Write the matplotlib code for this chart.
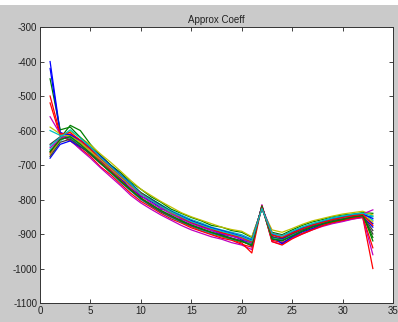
import matplotlib
matplotlib.use("Agg")
import matplotlib.pyplot as plt
from matplotlib.patches import Rectangle

x = list(range(1, 34))

s1 = [-400, -605, -618, -630, -652, -690, -705, -742, -758, -792, -800, -828, -832, -858, -860, -880, -884, -900, -898, -918, -925, -820, -915, -920, -900, -890, -875, -870, -858, -856, -848, -845, -870]
s2 = [-660, -622, -585, -600, -640, -672, -700, -722, -750, -770, -792, -808, -828, -840, -852, -862, -875, -880, -890, -895, -910, -826, -895, -902, -888, -875, -865, -858, -850, -845, -842, -838, -840]
s3 = [-520, -615, -630, -652, -675, -705, -728, -755, -782, -805, -822, -840, -856, -868, -882, -892, -902, -912, -918, -930, -938, -818, -918, -925, -910, -898, -886, -875, -868, -862, -856, -852, -1000]
s4 = [-655, -630, -612, -632, -655, -680, -702, -730, -752, -780, -798, -815, -832, -845, -858, -868, -880, -888, -895, -902, -915, -824, -900, -905, -892, -880, -870, -862, -852, -848, -843, -840, -860]
s5 = [-560, -610, -628, -655, -680, -708, -734, -760, -788, -810, -828, -845, -860, -875, -888, -898, -908, -915, -925, -932, -945, -815, -922, -930, -912, -900, -888, -878, -870, -864, -857, -852, -960]
s6 = [-670, -628, -602, -620, -642, -668, -692, -718, -745, -770, -788, -806, -822, -838, -850, -860, -870, -880, -887, -892, -908, -828, -888, -895, -884, -872, -862, -855, -848, -842, -838, -834, -845]
s7 = [-640, -618, -622, -645, -670, -695, -722, -748, -772, -798, -815, -832, -848, -860, -874, -884, -895, -902, -912, -920, -930, -822, -910, -918, -904, -890, -880, -870, -862, -858, -852, -848, -900]
s8 = [-680, -640, -630, -648, -664, -688, -712, -740, -768, -790, -806, -822, -840, -855, -868, -878, -890, -900, -906, -915, -922, -825, -906, -928, -908, -894, -884, -872, -864, -857, -852, -849, -880]
s9 = [-450, -598, -590, -620, -648, -675, -700, -728, -755, -780, -798, -816, -835, -850, -862, -872, -884, -894, -900, -908, -928, -820, -912, -915, -898, -885, -873, -865, -858, -850, -846, -843, -920]
s10 = [-665, -620, -615, -636, -660, -690, -716, -744, -770, -795, -815, -834, -850, -866, -878, -890, -900, -908, -916, -926, -955, -818, -922, -932, -914, -900, -888, -876, -866, -860, -854, -850, -940]
s11 = [-600, -614, -620, -642, -665, -694, -722, -750, -775, -800, -818, -836, -852, -865, -876, -888, -898, -906, -915, -922, -930, -823, -912, -915, -902, -888, -878, -868, -862, -855, -850, -847, -850]
s12 = [-650, -625, -610, -630, -652, -682, -708, -735, -762, -788, -810, -826, -842, -856, -870, -880, -890, -898, -906, -914, -926, -820, -898, -905, -893, -882, -872, -864, -856, -850, -846, -842, -830]
s13 = [-590, -610, -616, -635, -660, -684, -710, -736, -760, -784, -802, -820, -838, -852, -864, -874, -884, -894, -902, -910, -922, -823, -904, -908, -894, -883, -872, -864, -856, -851, -846, -844, -865]
s14 = [-675, -634, -625, -646, -668, -696, -720, -748, -774, -798, -818, -836, -850, -864, -876, -886, -896, -904, -912, -920, -935, -821, -908, -914, -900, -888, -878, -869, -861, -856, -851, -847, -890]
s15 = [-420, -608, -612, -628, -650, -675, -702, -728, -755, -782, -800, -818, -835, -848, -862, -872, -882, -890, -898, -906, -918, -823, -902, -912, -896, -882, -874, -864, -855, -850, -845, -842, -855]
s16 = [-662, -626, -618, -640, -666, -694, -720, -746, -772, -796, -814, -832, -846, -862, -874, -885, -895, -905, -914, -922, -932, -819, -914, -920, -906, -892, -880, -871, -864, -858, -850, -846, -910]
s17 = [-500, -610, -606, -628, -654, -680, -706, -732, -758, -782, -802, -820, -836, -852, -866, -876, -886, -896, -903, -910, -922, -824, -903, -910, -897, -885, -874, -866, -858, -852, -847, -843, -875]
s18 = [-645, -620, -598, -622, -648, -678, -704, -730, -756, -784, -802, -820, -836, -850, -864, -874, -884, -892, -900, -908, -920, -826, -898, -906, -892, -880, -870, -862, -854, -848, -843, -840, -848]

series = [s1, s2, s3, s4, s5, s6, s7, s8, s9, s10, s11, s12, s13, s14,
          s15, s16, s17, s18]

xticks = [0, 5, 10, 15, 20, 25, 30, 35]
yticks = [-1100, -1000, -900, -800, -700, -600, -500, -400, -300]
title = "Approx Coeff"

colors = [(0, 0, 1), (0, 0.5, 0), (1, 0, 0), (0, 0.75, 0.75),
          (0.75, 0, 0.75), (0.75, 0.75, 0), (0.25, 0.25, 0.25)]

plt.rcParams['font.family'] = ['Liberation Sans', 'DejaVu Sans']
plt.rcParams['axes.unicode_minus'] = False

fig = plt.figure(figsize=(3.98, 3.22), dpi=100)
fig.patch.set_facecolor('#cacaca')
fig.add_artist(Rectangle((0, 0.986), 1, 0.014, transform=fig.transFigure,
                         facecolor='white', edgecolor='none'))
ax = fig.add_axes([0.1005, 0.059, 0.887, 0.857])
ax.set_facecolor('white')

for i, s in enumerate(series):
    ax.plot(x, s, color=colors[i % len(colors)], linewidth=0.9)

ax.set_xlim(0, 35)
ax.set_ylim(-1100, -300)
ax.set_xticks(xticks)
ax.set_yticks(yticks)
ax.tick_params(direction='in', length=3, width=0.6, labelsize=7,
               top=True, right=True, colors='#222222', pad=2)
for sp in ax.spines.values():
    sp.set_linewidth(0.7)
    sp.set_color('#333333')
ax.set_title(title, fontsize=7, pad=3, color='#222222')

fig.savefig('out.png', dpi=100, facecolor=fig.get_facecolor())
